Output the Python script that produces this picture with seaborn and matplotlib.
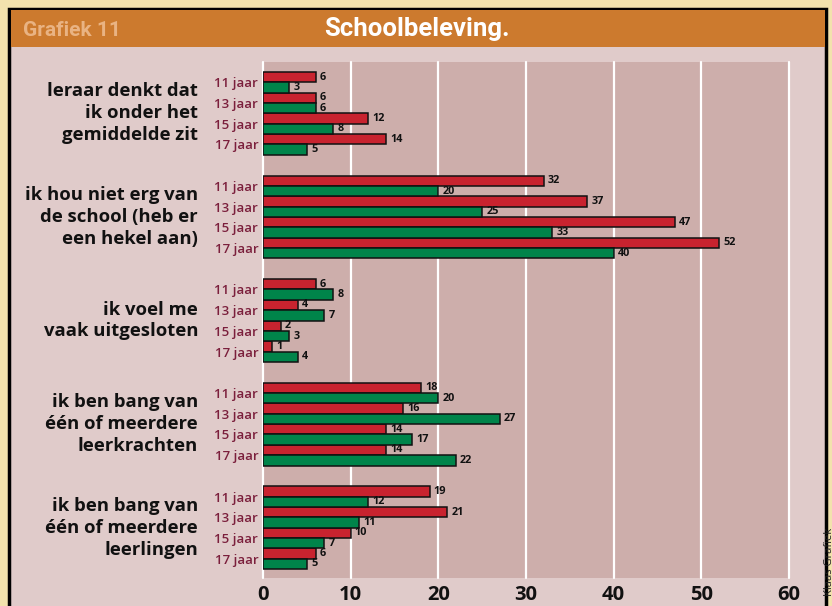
import matplotlib
matplotlib.use("Agg")
import matplotlib.pyplot as plt
import matplotlib.transforms as mtransforms
from matplotlib.patches import Rectangle
import seaborn as sns
import pandas as pd

# ---------------- data ----------------
groups = [
    "leraar denkt dat\nik onder het\ngemiddelde zit",
    "ik hou niet erg van\nde school (heb er\neen hekel aan)",
    "ik voel me\nvaak uitgesloten",
    "ik ben bang van\néén of meerdere\nleerkrachten",
    "ik ben bang van\néén of meerdere\nleerlingen",
]
ages = ["11 jaar", "13 jaar", "15 jaar", "17 jaar"]
series_names = ["rood", "groen"]
red_values = [
    [6, 6, 12, 14],
    [32, 37, 47, 52],
    [6, 4, 2, 1],
    [18, 16, 14, 14],
    [19, 21, 10, 6],
]
green_values = [
    [3, 6, 8, 5],
    [20, 25, 33, 40],
    [8, 7, 3, 4],
    [20, 27, 17, 22],
    [12, 11, 7, 5],
]
x_ticks = [0, 10, 20, 30, 40, 50, 60]

# ---------------- styling ----------------
RED = "#c8232f"
GREEN = "#00844a"
PANEL = "#e0cbca"
PLOT_BG = "#cdaeab"
HEADER = "#cc7a2e"
CREAM = "#f2e2ad"
MAROON = "#7b1f3c"
FONT = "Open Sans"
HEAD_FONT = ["Roboto", "DejaVu Sans"]

sns.set_theme(style="white")
plt.rcParams["font.family"] = [FONT, "DejaVu Sans"]

GROUP_STEP = len(ages) + 1
rows = []
for gi, g in enumerate(groups):
    for ai, a in enumerate(ages):
        pos = gi * GROUP_STEP + ai
        rows.append({"pos": pos, "series": series_names[0], "value": red_values[gi][ai]})
        rows.append({"pos": pos, "series": series_names[1], "value": green_values[gi][ai]})
df = pd.DataFrame(rows)

W, H = 832, 606
fig = plt.figure(figsize=(W / 100, H / 100), dpi=100, facecolor=CREAM)

# panel and header (behind the axes)
fig.patches.append(Rectangle((9 / W, -0.05), (826 - 9) / W, 1 - 9 / H + 0.05,
                             transform=fig.transFigure, facecolor=PANEL,
                             edgecolor="black", linewidth=2.5, zorder=-3))
fig.patches.append(Rectangle((10.5 / W, 1 - 47 / H), (825 - 10.5) / W, 37 / H,
                             transform=fig.transFigure, facecolor=HEADER,
                             edgecolor="none", zorder=-2))

fig.text(23 / W, 1 - 30 / H, "Grafiek 11", color="#e9b383", fontsize=15,
         fontweight="bold", ha="left", va="center", family=HEAD_FONT)
fig.text(417 / W, 1 - 29 / H, "Schoolbeleving.", color="white", fontsize=18.5,
         fontweight="bold", ha="center", va="center", family=HEAD_FONT)

ax = fig.add_axes([263 / W, 1 - 578 / H, (789 - 263) / W, (578 - 62) / H])
ax.set_facecolor(PLOT_BG)

sns.barplot(data=df, x="value", y="pos", hue="series", hue_order=series_names,
            orient="h", native_scale=True, palette=[RED, GREEN], saturation=1,
            width=1.0, dodge=True, edgecolor="#111111", linewidth=1.1,
            errorbar=None, legend=False, ax=ax, zorder=3)

ax.set_xlim(0, 60)
ax.set_ylim(23.93, -0.98)
ax.set_xticks(x_ticks)
ax.set_xticklabels([str(t) for t in x_ticks], fontsize=14.5, fontweight="bold", color="#111111")
tick_pos = [gi * GROUP_STEP + ai for gi in range(len(groups)) for ai in range(len(ages))]
ax.set_yticks(tick_pos)
ax.set_yticklabels(ages * len(groups), fontsize=9.5, color=MAROON, fontweight="semibold")
ax.tick_params(axis="both", length=0)
ax.tick_params(axis="y", pad=3.5)
ax.tick_params(axis="x", pad=5)
ax.set_xlabel("")
ax.set_ylabel("")
for s in ax.spines.values():
    s.set_visible(False)
ax.set_axisbelow(True)
ax.xaxis.grid(True, color="white", linewidth=1.6)
ax.yaxis.grid(False)
for gl in ax.get_xgridlines():
    gl.set_clip_on(False)

# value labels
for container in ax.containers:
    ax.bar_label(container, fmt="%d", padding=3, fontsize=7.8, fontweight="bold",
                 color="#111111")

# group labels
trans = mtransforms.blended_transform_factory(fig.transFigure, ax.transData)
for gi, g in enumerate(groups):
    center = gi * GROUP_STEP + (len(ages) - 1) / 2
    ax.text(198 / W, center, g, transform=trans, ha="right", va="center",
            fontsize=13.3, fontweight="bold", color="#111111", linespacing=1.28,
            multialignment="right")

fig.text(829 / W, 1 - 528 / H, "Klaas Grafiek", rotation=90, ha="center", va="top",
         fontsize=8, color="#222222")

fig.savefig("out.png", dpi=100, facecolor=CREAM)
